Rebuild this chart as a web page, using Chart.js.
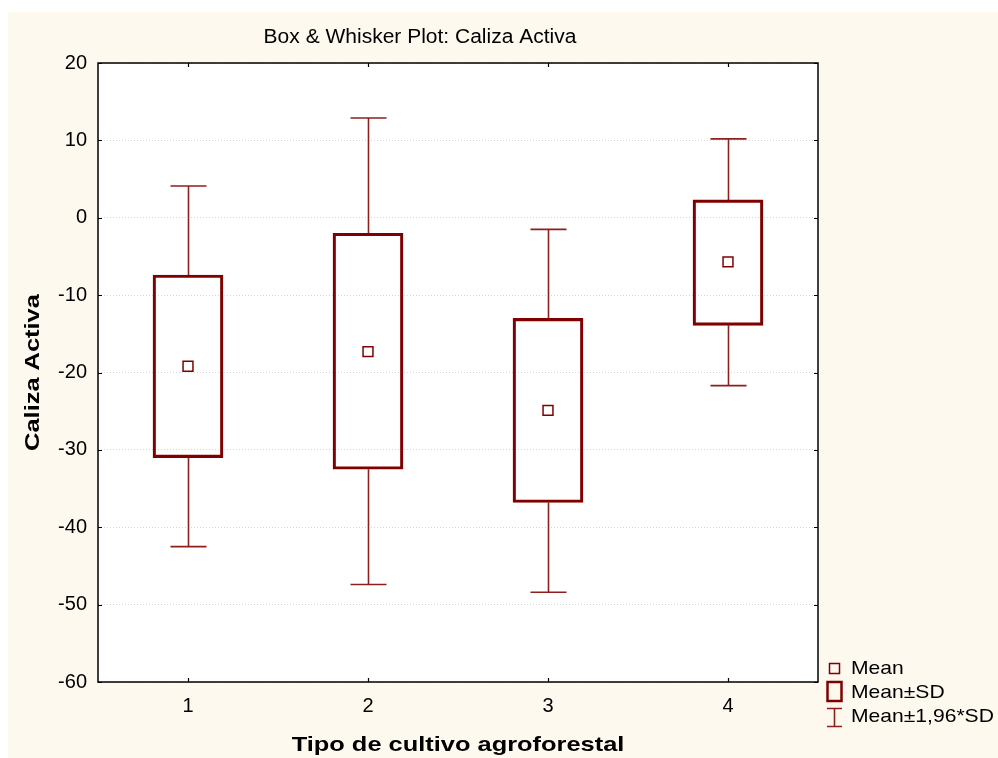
<!DOCTYPE html>
<html>
<head>
<meta charset="utf-8">
<script src="https://cdn.jsdelivr.net/npm/chart.js@4.4.1/dist/chart.umd.min.js"></script>
<style>
  html, body { margin: 0; padding: 0; background: #fff; }
  #wrap { width: 998px; height: 758px; }
</style>
</head>
<body>
<div id="wrap"><canvas id="chart" width="998" height="758"></canvas></div>
<script>
// values
const categories = ['1', '2', '3', '4'];
const means  = [-19.2, -17.3, -24.9, -5.7];
const sdLow  = [-31.0, -32.5, -36.8, -13.9];
const sdHigh = [-7.4, -2.0, -13.0, 2.3];
const ciLow  = [-42.5, -47.4, -48.4, -21.7];
const ciHigh = [4.1, 12.9, -1.5, 10.2];

const FONT = '"Liberation Sans", Arial, sans-serif';
const RED = '#800000';
const WHISKER = '#8e1f1f';

// text in the original is a bit stretched sideways
function wideText(ctx, text, x, y, font, align, sx) {
  ctx.save();
  ctx.font = font;
  ctx.textAlign = align;
  ctx.textBaseline = 'middle';
  ctx.translate(x, y);
  ctx.scale(sx, 1);
  ctx.fillText(text, 0, 0);
  ctx.restore();
}

// background, white plot area, whiskers
const backdrop = {
  id: 'backdrop',
  beforeDraw(chart) {
    const { ctx, chartArea: a } = chart;
    ctx.save();
    ctx.fillStyle = '#fff';
    ctx.fillRect(0, 0, chart.width, chart.height);
    ctx.fillStyle = '#fdf9ef';
    ctx.fillRect(8, 12, chart.width - 8, chart.height - 12);
    ctx.fillStyle = '#fff';
    ctx.fillRect(a.left, a.top, a.right - a.left, a.bottom - a.top);
    ctx.restore();
  },
  beforeDatasetsDraw(chart) {
    const { ctx } = chart;
    const xs = chart.scales.x, ys = chart.scales.y;
    ctx.save();
    ctx.strokeStyle = WHISKER;
    ctx.lineWidth = 1.6;
    categories.forEach((c, i) => {
      const x = Math.round(xs.getPixelForValue(i)) + 0.5;
      const pairs = [[sdHigh[i], ciHigh[i]], [sdLow[i], ciLow[i]]];
      pairs.forEach(([from, to]) => {
        const y0 = ys.getPixelForValue(from), y1 = ys.getPixelForValue(to);
        ctx.beginPath();
        ctx.moveTo(x, y0);
        ctx.lineTo(x, y1);
        ctx.moveTo(x - 18, y1);
        ctx.lineTo(x + 18, y1);
        ctx.stroke();
      });
    });
    ctx.restore();
  }
};

// frame, inner ticks, titles, legend
const decor = {
  id: 'decor',
  afterDraw(chart) {
    const { ctx, chartArea: a } = chart;
    const xs = chart.scales.x, ys = chart.scales.y;
    ctx.save();
    ctx.strokeStyle = '#000';
    ctx.lineWidth = 1.5;
    ctx.strokeRect(a.left, a.top, a.right - a.left, a.bottom - a.top);

    ctx.lineWidth = 1.2;
    ctx.beginPath();
    ys.ticks.forEach((t, i) => {
      const y = Math.round(ys.getPixelForTick(i)) + 0.5;
      ctx.moveTo(a.left, y); ctx.lineTo(a.left + 4, y);
      ctx.moveTo(a.right, y); ctx.lineTo(a.right - 4, y);
    });
    categories.forEach((c, i) => {
      const x = Math.round(xs.getPixelForValue(i)) + 0.5;
      ctx.moveTo(x, a.top); ctx.lineTo(x, a.top + 4);
      ctx.moveTo(x, a.bottom); ctx.lineTo(x, a.bottom - 4);
    });
    ctx.stroke();

    ctx.fillStyle = '#000';
    wideText(ctx, 'Box & Whisker Plot: Caliza Activa', 420, 37, '20px ' + FONT, 'center', 1.05);
    wideText(ctx, 'Tipo de cultivo agroforestal', (a.left + a.right) / 2, 745, 'bold 21px ' + FONT, 'center', 1.21);
    ctx.save();
    ctx.translate(33, (a.top + a.bottom) / 2);
    ctx.rotate(-Math.PI / 2);
    wideText(ctx, 'Caliza Activa', 0, 0, 'bold 21px ' + FONT, 'center', 1.21);
    ctx.restore();

    // legend
    ctx.strokeStyle = RED;
    ctx.lineWidth = 1.5;
    ctx.strokeRect(829.5, 663.5, 10, 10);
    ctx.lineWidth = 2.5;
    ctx.strokeRect(827.5, 682, 14, 19);
    ctx.strokeStyle = WHISKER;
    ctx.lineWidth = 1.6;
    ctx.beginPath();
    ctx.moveTo(827, 708.5); ctx.lineTo(842, 708.5);
    ctx.moveTo(834.5, 708.5); ctx.lineTo(834.5, 726.5);
    ctx.moveTo(827, 726.5); ctx.lineTo(842, 726.5);
    ctx.stroke();

    ctx.fillStyle = '#000';
    wideText(ctx, 'Mean', 851, 669, '19px ' + FONT, 'left', 1.11);
    wideText(ctx, 'Mean\u00b1SD', 851, 693, '19px ' + FONT, 'left', 1.11);
    wideText(ctx, 'Mean\u00b11,96*SD', 851, 717, '19px ' + FONT, 'left', 1.11);
    ctx.restore();
  }
};

new Chart(document.getElementById('chart'), {
  type: 'bar',
  data: {
    labels: categories,
    datasets: [
      {
        type: 'line',
        label: 'Mean',
        data: means,
        showLine: false,
        pointStyle: 'rect',
        pointRadius: 7,
        pointBorderWidth: 1.5,
        pointBackgroundColor: '#fff',
        pointBorderColor: RED,
        order: 0
      },
      {
        label: 'Mean±SD',
        data: categories.map((c, i) => [sdLow[i], sdHigh[i]]),
        backgroundColor: 'rgba(255,255,255,0)',
        borderColor: RED,
        borderWidth: 2.5,
        borderSkipped: false,
        barThickness: 70,
        order: 1
      }
    ]
  },
  options: {
    responsive: false,
    animation: false,
    layout: { padding: { top: 63, right: 180, left: 0, bottom: 0 } },
    plugins: {
      legend: { display: false },
      title: { display: false },
      tooltip: { enabled: false }
    },
    scales: {
      x: {
        type: 'category',
        offset: true,
        grid: { display: false, drawTicks: false },
        border: { display: false },
        ticks: { color: '#000', font: { family: FONT, size: 20 }, padding: 12 },
        afterFit(scale) { scale.height = 76; }
      },
      y: {
        min: -60,
        max: 20,
        grid: { color: '#d6d6d6', lineWidth: 1, drawTicks: false },
        border: { display: false, dash: [1, 2] },
        ticks: { stepSize: 10, color: '#000', font: { family: FONT, size: 20 }, padding: 11 },
        afterFit(scale) { scale.width = 98; }
      }
    }
  },
  plugins: [backdrop, decor]
});
</script>
</body>
</html>
